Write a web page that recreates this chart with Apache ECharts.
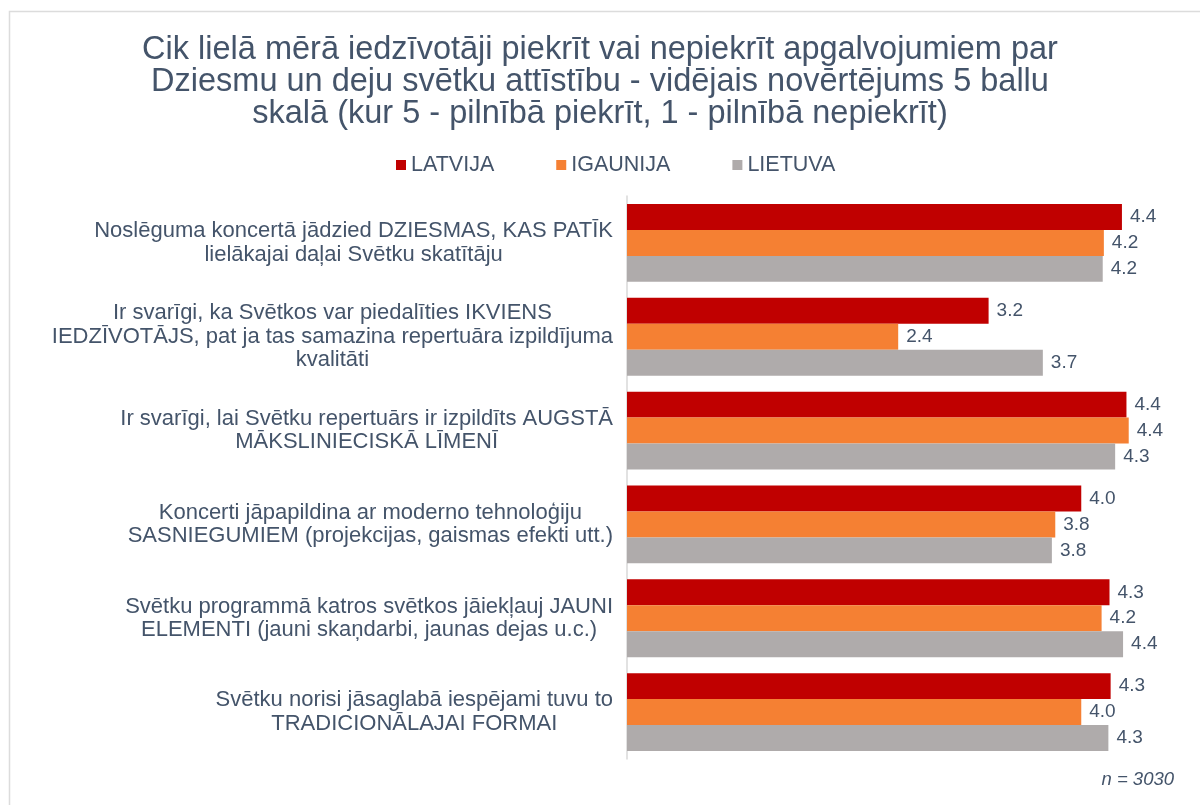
<!DOCTYPE html>
<html>
<head>
<meta charset="utf-8">
<script src="https://cdn.jsdelivr.net/npm/echarts@6/dist/echarts.min.js"></script>
<style>
  html, body { margin: 0; padding: 0; background: #ffffff; }
  #chart { width: 1200px; height: 805px; }
</style>
</head>
<body>
<div id="chart"></div>
<script>
const categories = [
  "Noslēguma koncertā jādzied DZIESMAS, KAS PATĪK\nlielākajai daļai Svētku skatītāju",
  "Ir svarīgi, ka Svētkos var piedalīties IKVIENS\nIEDZĪVOTĀJS, pat ja tas samazina repertuāra izpildījuma\nkvalitāti",
  "Ir svarīgi, lai Svētku repertuārs ir izpildīts AUGSTĀ\nMĀKSLINIECISKĀ LĪMENĪ",
  "Koncerti jāpapildina ar moderno tehnoloģiju\nSASNIEGUMIEM (projekcijas, gaismas efekti utt.)",
  "Svētku programmā katros svētkos jāiekļauj JAUNI\nELEMENTI (jauni skaņdarbi, jaunas dejas u.c.)",
  "Svētku norisi jāsaglabā iespējami tuvu to\nTRADICIONĀLAJAI FORMAI",
];

const seriesNames = ["LATVIJA", "IGAUNIJA", "LIETUVA"];
const latvija = [4.38, 3.2, 4.42, 4.02, 4.27, 4.28];
const igaunija = [4.22, 2.4, 4.44, 3.79, 4.2, 4.02];
const lietuva = [4.21, 3.68, 4.32, 3.76, 4.39, 4.26];

const colors = ["#c00000", "#f58033", "#afabab"];
const textColor = "#44546a";
const fontFamily = "'Liberation Sans', Arial, Helvetica, sans-serif";

const chart = echarts.init(document.getElementById("chart"));

const buildSeries = (name, data, index) => ({
  type: "bar",
  name,
  data,
  barGap: "0%",
  barCategoryGap: "17%",
  itemStyle: { color: colors[index] },
  label: {
    show: true,
    position: "right",
    distance: 8,
    color: textColor,
    fontSize: 19,
    fontFamily,
    formatter: (p) => p.value.toFixed(1),
  },
});

chart.setOption({
  animation: false,
  color: colors,
  title: {
    text: "Cik lielā mērā iedzīvotāji piekrīt vai nepiekrīt apgalvojumiem par\nDziesmu un deju svētku attīstību - vidējais novērtējums 5 ballu\nskalā (kur 5 - pilnībā piekrīt, 1 - pilnībā nepiekrīt)",
    left: "center",
    top: 29,
    textStyle: {
      color: textColor,
      fontSize: 32.5,
      fontWeight: "normal",
      lineHeight: 32,
      fontFamily,
    },
  },
  legend: {
    top: 149,
    left: 391,
    itemGap: 62,
    itemWidth: 10,
    itemHeight: 10,
    icon: "rect",
    textStyle: { color: textColor, fontSize: 21.5, fontFamily },
    data: seriesNames,
  },
  grid: {
    top: 196,
    bottom: 46,
    left: 627,
    right: 8,
  },
  xAxis: {
    type: "value",
    min: 0,
    max: 5,
    show: false,
  },
  yAxis: {
    type: "category",
    inverse: true,
    data: categories,
    axisLine: { lineStyle: { color: "#d9d9d9", width: 1.5 } },
    axisTick: { show: false },
    axisLabel: {
      margin: 14,
      align: "right",
      color: textColor,
      fontFamily,
      formatter: (value) =>
        value.split("\n").map((line) => `{c|${line}}`).join("\n"),
      rich: {
        c: {
          align: "center",
          color: textColor,
          fontSize: 22,
          lineHeight: 23.5,
          fontFamily,
        },
      },
    },
  },
  series: [
    buildSeries(seriesNames[0], latvija, 0),
    buildSeries(seriesNames[1], igaunija, 1),
    buildSeries(seriesNames[2], lietuva, 2),
  ],
  graphic: [
    {
      type: "rect",
      silent: true,
      shape: { x: 9.5, y: 11.5, width: 1300, height: 900 },
      style: { fill: "none", stroke: "#dcdcdc", lineWidth: 1.5 },
    },
    {
      type: "text",
      right: 26,
      top: 770,
      style: {
        text: "n = 3030",
        fill: textColor,
        fontSize: 18.5,
        fontStyle: "italic",
        fontFamily,
      },
    },
  ],
});
</script>
</body>
</html>
